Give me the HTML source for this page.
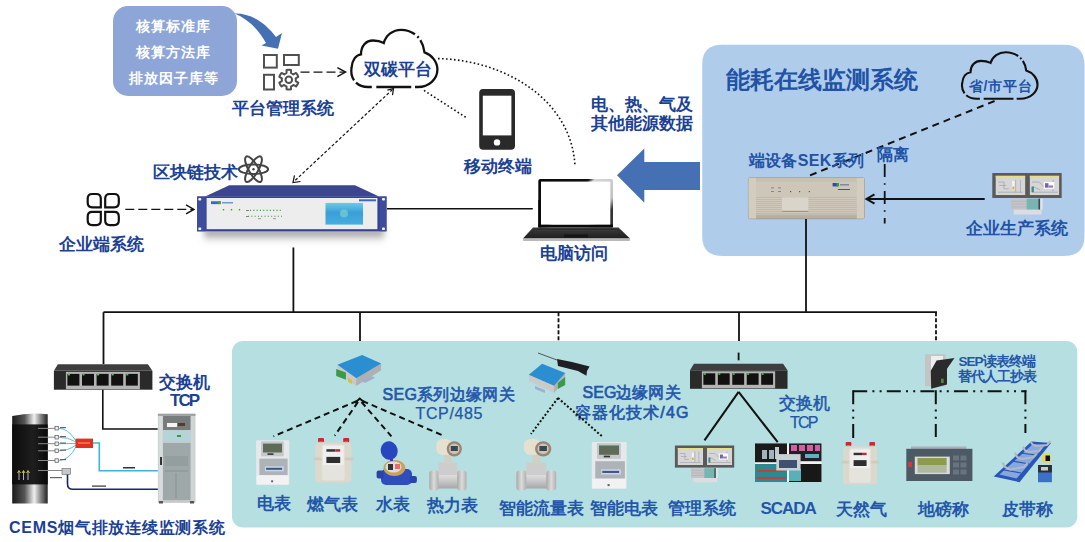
<!DOCTYPE html>
<html><head><meta charset="utf-8">
<style>
html,body{margin:0;padding:0;background:#fff;width:1085px;height:542px;overflow:hidden}
svg{display:block}
text{font-family:"Liberation Sans",sans-serif;font-weight:bold}
.dk{fill:#1b4193;font-size:17px}
.lb{fill:#2152a6;font-size:17px}
.md{fill:#2356ab;font-size:17px}
</style></head><body>
<svg width="1085" height="542" viewBox="0 0 1085 542">
<defs>
  <linearGradient id="pipeg" x1="0" y1="0" x2="0" y2="1"><stop offset="0" stop-color="#e4e4e4"/><stop offset="0.5" stop-color="#c8c8c8"/><stop offset="1" stop-color="#a8a8a8"/></linearGradient>
  <linearGradient id="flg" x1="0" y1="0" x2="1" y2="0"><stop offset="0" stop-color="#a8a8a8"/><stop offset="0.5" stop-color="#dcdcdc"/><stop offset="1" stop-color="#b0b0b0"/></linearGradient>
  <filter id="blur2" x="-20%" y="-50%" width="140%" height="200%"><feGaussianBlur stdDeviation="3"/></filter>
  <linearGradient id="lapTop" x1="0" y1="0" x2="1" y2="0">
    <stop offset="0" stop-color="#111"/><stop offset="0.6" stop-color="#222"/><stop offset="0.75" stop-color="#ddd"/><stop offset="1" stop-color="#999"/>
  </linearGradient>
</defs>

<!-- ============ TOP-LEFT BOX ============ -->
<rect x="113" y="6" width="124" height="90" rx="15" fill="#8ea6d7"/>
<g fill="#fff" font-size="14" text-anchor="middle">
  <text x="172.7" y="31" textLength="74" lengthAdjust="spacing">核算标准库</text>
  <text x="172.7" y="57" textLength="74" lengthAdjust="spacing">核算方法库</text>
  <text x="173.2" y="83" textLength="89" lengthAdjust="spacing">排放因子库等</text>
</g>
<!-- curved arrow -->
<path d="M234.5,13.5 C250,13 265,22 276,37 L282,33 L278,48.7 L261.5,45.6 L266,43 C259,30 248,19 234.5,13.5 Z" fill="#4570b4"/>

<!-- platform icon -->
<g fill="none" stroke="#505050" stroke-width="2">
  <rect x="264" y="55" width="12.8" height="12.6"/>
  <rect x="284" y="55" width="14.8" height="10"/>
  <rect x="264" y="74.8" width="10" height="14.7"/>
  <path id="gear" stroke-linejoin="round" d="M286.52,73.08 L286.57,70.05 A9.9,9.9 0 0 1 291.03,70.05 L291.08,73.08 A7.0,7.0 0 0 1 293.39,74.42 L296.04,72.95 A9.9,9.9 0 0 1 298.27,76.81 L295.67,78.36 A7.0,7.0 0 0 1 295.67,81.04 L298.27,82.59 A9.9,9.9 0 0 1 296.04,86.45 L293.39,84.98 A7.0,7.0 0 0 1 291.08,86.32 L291.03,89.35 A9.9,9.9 0 0 1 286.57,89.35 L286.52,86.32 A7.0,7.0 0 0 1 284.21,84.98 L281.56,86.45 A9.9,9.9 0 0 1 279.33,82.59 L281.93,81.04 A7.0,7.0 0 0 1 281.93,78.36 L279.33,76.81 A9.9,9.9 0 0 1 281.56,72.95 L284.21,74.42 A7.0,7.0 0 0 1 286.52,73.08 Z"/>
  <circle cx="288.8" cy="79.7" r="3.3"/>
</g>
<text class="dk" x="232.2" y="114">平台管理系统</text>
<!-- dashed arrow icon->cloud -->
<g stroke="#111" stroke-width="1.4" fill="none">
  <line x1="300.5" y1="72.1" x2="344.5" y2="72.1" stroke-dasharray="9 4"/>
  <polyline points="337.4,67.6 345.6,72.1 337.4,76.6"/>
</g>

<!-- cloud 双碳平台 -->
<path d="M368,87 C356,87 350,78 351.5,68 C352,60 356,55 361,54.4 C361,46 366,40.5 373,40.5 C377,40.5 381,41.5 383.8,43 C386,35 393,29.8 401,29.8 C413,29.8 423,38 424.5,52.4 C432,55 437.4,62 437.4,69.5 C437.4,79 429,87 418,87 Z" fill="none" stroke="#111" stroke-width="2.3" stroke-dasharray="13 3 100.5 3.2 2 2.8 67.5 3.8 34.9 4.5 4.8"/>
<text class="dk" x="364" y="75" fill="#1f4fa0">双碳平台</text>

<!-- ============ BLOCKCHAIN label + atom ============ -->
<text class="dk" x="153" y="178">区块链技术</text>
<g fill="none" stroke="#444" stroke-width="2" transform="translate(253.5,169.2)">
  <ellipse rx="14.6" ry="4.8"/>
  <ellipse rx="14.6" ry="4.8" transform="rotate(60)"/>
  <ellipse rx="14.6" ry="4.8" transform="rotate(-60)"/>
  <circle r="1.2" fill="#444" stroke="none"/>
</g>

<!-- enterprise icon -->
<g fill="none" stroke="#111" stroke-width="2.2">
  <path d="M87.7,198.5 Q87.7,194 92.2,194 L96.3,194 Q100.8,194 100.8,198.5 L100.8,207.3 L92.2,207.3 Q87.7,207.3 87.7,202.8 Z"/>
  <path d="M105.2,198.5 Q105.2,194 109.7,194 L114.3,194 Q118.8,194 118.8,198.5 L118.8,202.8 Q118.8,207.3 114.3,207.3 L105.2,207.3 Z"/>
  <path d="M87.7,216.4 Q87.7,211.9 92.2,211.9 L100.8,211.9 L100.8,220.6 Q100.8,225.1 96.3,225.1 L92.2,225.1 Q87.7,225.1 87.7,220.6 Z"/>
  <path d="M105.2,211.9 L114.3,211.9 Q118.8,211.9 118.8,216.4 L118.8,220.6 Q118.8,225.1 114.3,225.1 L109.7,225.1 Q105.2,225.1 105.2,220.6 Z"/>
</g>
<text class="dk" x="58.6" y="250.3">企业端系统</text>
<g stroke="#111" stroke-width="1.4" fill="none">
  <line x1="125.3" y1="209.4" x2="193" y2="209.4" stroke-dasharray="9 4"/>
  <polyline points="186,204.9 194,209.4 186,213.9"/>
</g>

<!-- ============ SERVER ============ -->
<defs>
  <linearGradient id="scr" x1="0" y1="0" x2="0" y2="1">
    <stop offset="0" stop-color="#6ccbe8"/><stop offset="0.45" stop-color="#3a9ed8"/><stop offset="1" stop-color="#46aee0"/>
  </linearGradient>
  <linearGradient id="shd" x1="0" y1="0" x2="0" y2="1">
    <stop offset="0" stop-color="#555" stop-opacity="0.8"/><stop offset="1" stop-color="#999" stop-opacity="0"/>
  </linearGradient>
</defs>
<g>
  <rect x="204" y="229" width="180" height="14" fill="url(#shd)" filter="url(#blur2)"/>
  <polygon points="229.3,185.2 355,185.2 379.6,196.8 204.6,196.8" fill="#3b4590"/>
  <rect x="197.1" y="196.5" width="189.4" height="34.8" fill="#34428f"/>
  <rect x="197.1" y="196.5" width="8.6" height="34.8" fill="#3d4c9c"/>
  <rect x="379.6" y="196.5" width="6.9" height="34.8" fill="#3d4c9c"/>
  <rect x="206.6" y="198" width="170.8" height="31.2" fill="#ededed"/>
  <g fill="#f4f4f8"><rect x="198.3" y="198" width="3" height="2.5" rx="1"/><rect x="198.3" y="227.5" width="3" height="2.5" rx="1"/><rect x="382" y="198" width="3" height="2.5" rx="1"/><rect x="382" y="227.5" width="3" height="2.5" rx="1"/></g>
  <rect x="211" y="201.3" width="9.7" height="2.8" fill="#2a6cc0"/>
  <rect x="217.5" y="201.3" width="3.2" height="2.8" fill="#3aa04a"/>
  <rect x="222" y="202" width="11" height="1.5" fill="#6a9ad0"/>
  <g fill="#3a9a3a">
    <rect x="222.8" y="209" width="1.4" height="1.4"/><rect x="230.8" y="209" width="1.4" height="1.4"/><rect x="238.8" y="209" width="1.4" height="1.4"/>
  </g>
  <g stroke="#3aa03a" stroke-width="1.1" stroke-dasharray="1.1 2.2">
    <line x1="250" y1="210.4" x2="282" y2="210.4"/>
    <line x1="248" y1="216.3" x2="282" y2="216.3"/>
  </g>
  <g fill="#666"><rect x="246" y="210" width="3" height="0.8"/><rect x="246" y="216" width="2.5" height="0.8"/><rect x="258" y="218.5" width="3" height="0.6"/><rect x="273" y="218.5" width="3" height="0.6"/>
  </g>
  <rect x="325.5" y="202.9" width="37.5" height="21.7" fill="url(#scr)"/>
  <circle cx="344" cy="213.5" r="4" fill="#7ad0d0" opacity="0.7"/>
  <rect x="359" y="199.3" width="17" height="2" fill="#3a6ac0"/>
</g>
<!-- ============ PHONE ============ -->
<rect x="479.2" y="88.9" width="35.8" height="60.8" rx="4" fill="#2a2a2a"/>
<rect x="482.8" y="95.7" width="28.6" height="39.7" fill="#fff"/>
<circle cx="497" cy="142.4" r="3.2" fill="#fff"/>
<text class="dk" x="463.8" y="171.5">移动终端</text>

<!-- ============ LAPTOP ============ -->
<defs>
  <linearGradient id="bez" x1="0" y1="0" x2="1" y2="0.6">
    <stop offset="0" stop-color="#0a0a0a"/><stop offset="0.5" stop-color="#111"/><stop offset="0.56" stop-color="#d8d8d8"/><stop offset="0.9" stop-color="#c0c0c0"/><stop offset="1" stop-color="#333"/>
  </linearGradient>
  <linearGradient id="lbase" x1="0" y1="0" x2="0" y2="1">
    <stop offset="0" stop-color="#3a3a3a"/><stop offset="1" stop-color="#202020"/>
  </linearGradient>
</defs>
<rect x="538.3" y="179" width="74.7" height="48.5" rx="2" fill="url(#bez)"/>
<rect x="538.3" y="200" width="3" height="27.5" fill="#0a0a0a"/>
<rect x="538.3" y="224.5" width="74.7" height="3" fill="#0a0a0a"/>
<rect x="541" y="181.6" width="69.3" height="43" fill="#fff"/>
<polygon points="533,227.5 618.5,227.5 630,238.5 523,238.5" fill="url(#lbase)"/>
<polygon points="536,229 615.5,229 620,233 531,233" fill="#2a2a2a"/>
<g stroke="#4a4a4a" stroke-width="0.5"><line x1="535" y1="230.5" x2="617" y2="230.5"/><line x1="533" y1="232" x2="619" y2="232"/></g>
<rect x="564" y="234.5" width="24" height="3" fill="#151515"/>
<rect x="523" y="238.5" width="107" height="2.4" rx="1" fill="#b8b8b8"/>
<text class="dk" x="539.8" y="258.8">电脑访问</text>

<!-- line server->laptop -->
<line x1="387" y1="208.8" x2="532.8" y2="208.8" stroke="#111" stroke-width="1.6"/>

<!-- dotted lines -->
<g fill="none" stroke="#111" stroke-width="1.6" stroke-dasharray="1.6 2.4">
  <path d="M438,58.6 C505,60 572,100 575,166.5"/>
  <line x1="424" y1="90.4" x2="466" y2="117.5"/>
</g>
<!-- dashed line cloud->server -->
<g stroke="#111" stroke-width="1.2" fill="none">
  <line x1="392.5" y1="89.5" x2="294" y2="181.5" stroke-dasharray="3 2"/>
  <polyline points="387.4,90.1 393.5,88.5 392.5,95.2"/>
  <polyline points="294.5,175.4 293,182.5 300.5,181.5"/>
</g>
<!-- ============ BIG ARROW ============ -->
<polygon points="617,175.3 644.3,148.4 644.3,162 700,162 700,190 644.3,190 644.3,202.8" fill="#4570b4"/>
<text class="dk" x="590.8" y="109.5">电、热、气及</text>
<text class="dk" x="590.8" y="128.5">其他能源数据</text>

<!-- ============ RIGHT PANEL ============ -->
<path d="M722.2,44.7 L1064,44.7 Q1084.5,44.7 1084.5,65 L1084.5,236 Q1084.5,256 1064,256 L722.2,256 Q702.2,256 702.2,236 L702.2,64.7 Q702.2,44.7 722.2,44.7 Z" fill="#afcdeb"/>
<text class="lb" x="725.5" y="88" style="font-size:24px">能耗在线监测系统</text>
<!-- small cloud -->
<path d="M976.67,98.70 C966.15,98.70 960.88,91.39 962.20,83.26 C962.64,76.75 966.15,72.69 970.53,72.20 C970.53,65.37 974.92,60.90 981.06,60.90 C984.56,60.90 988.07,61.71 990.53,62.93 C992.46,56.43 998.60,52.20 1005.61,52.20 C1016.14,52.20 1024.91,58.87 1026.22,70.57 C1032.80,72.69 1037.53,78.38 1037.53,84.48 C1037.53,92.20 1030.17,98.70 1020.52,98.70 Z" fill="none" stroke="#111" stroke-width="2.1" stroke-dasharray="11.08 2.56 85.65 2.73 1.70 2.39 57.53 3.24 29.74 3.84 4.09"/>
<text class="lb" x="968.5" y="91" style="font-size:14px" textLength="63.5" lengthAdjust="spacing">省/市平台</text>
<!-- dashed line to SEK -->
<line x1="994.6" y1="101" x2="806" y2="177" stroke="#111" stroke-width="2" stroke-dasharray="7 5"/>
<text class="lb" x="748.6" y="166" style="font-size:16px" textLength="115.5" lengthAdjust="spacing">端设备SEK系列</text>
<text class="lb" x="876.5" y="159.5" style="font-size:16px">隔离</text>
<!-- SEK device -->
<defs>
  <linearGradient id="sekg" x1="0" y1="0" x2="0" y2="1">
    <stop offset="0" stop-color="#c6c0b1"/><stop offset="0.5" stop-color="#cdc7b8"/><stop offset="1" stop-color="#b5ae9e"/>
  </linearGradient>
  <pattern id="groove" width="4" height="2" patternUnits="userSpaceOnUse">
    <rect width="4" height="2" fill="#cfc9bb"/><rect y="1.2" width="4" height="0.8" fill="#bcb5a6"/>
  </pattern>
</defs>
<rect x="747.9" y="177.2" width="116.9" height="42" rx="2.5" fill="#a39c8c"/>
<rect x="748.6" y="177.9" width="115.5" height="40.6" rx="2" fill="url(#sekg)"/>
<rect x="756" y="182" width="100.8" height="15" fill="#cdc7b9"/>
<rect x="756" y="197" width="100.8" height="17.5" fill="url(#groove)"/>
<rect x="781.9" y="197.3" width="26.5" height="14.4" fill="#d9d5ca"/>
<rect x="781.9" y="210.8" width="26.5" height="1.2" fill="#9d9686"/>
<rect x="748.6" y="177.9" width="7.4" height="40.6" fill="#d2cdbf"/>
<rect x="856.8" y="177.9" width="7.3" height="40.6" fill="#d2cdbf"/>
<rect x="832.6" y="183" width="5.5" height="3.4" fill="#2a4ab0"/><rect x="836.5" y="183" width="2.5" height="3.4" fill="#3a9a4a"/>
<rect x="840" y="184" width="9" height="1.5" fill="#7a88b0"/>
<rect x="838" y="189" width="12" height="1" fill="#555"/>
<g fill="#a04030"><rect x="790" y="191" width="1.2" height="1.2"/><rect x="799" y="191" width="1.2" height="1.2"/><rect x="808.7" y="191" width="1.2" height="1.2"/></g>
<g fill="#777"><rect x="771" y="187.5" width="3" height="0.8"/><rect x="778" y="187.5" width="3" height="0.8"/><rect x="771" y="191" width="3" height="0.8"/><rect x="778" y="191" width="3" height="0.8"/></g>
<!-- isolation dash-dot -->
<line x1="884.7" y1="164" x2="884.7" y2="223.6" stroke="#111" stroke-width="1.8" stroke-dasharray="13 6.2 1.6 6.2"/>
<!-- arrow enterprise production -> SEK -->
<line x1="867" y1="199" x2="984.7" y2="199" stroke="#111" stroke-width="2"/>
<polyline points="874.5,194.3 866.5,199 874.5,203.7" fill="none" stroke="#111" stroke-width="2"/>
<!-- monitor -->
<use href="#monitor" transform="translate(992.3,173) scale(1.17,1.13)"/>
<text class="lb" x="966" y="234.2">企业生产系统</text>

<!-- ============ TREE LINES ============ -->
<g stroke="#111" stroke-width="1.8" fill="none">
  <line x1="293.4" y1="247.5" x2="293.4" y2="312.2"/>
  <line x1="103.5" y1="312.2" x2="937" y2="312.2"/>
  <line x1="103.5" y1="312.2" x2="103.5" y2="364"/>
  <line x1="360" y1="312.2" x2="360" y2="341"/>
  <line x1="739" y1="312.2" x2="739" y2="341"/>
  <line x1="806" y1="219" x2="806" y2="312.2"/>
  <line x1="558.5" y1="312.2" x2="558.5" y2="341" stroke-dasharray="4 2"/>
  <line x1="936" y1="312.2" x2="936" y2="341" stroke-dasharray="4 2"/>
</g>

<!-- ============ BOTTOM TEAL BOX ============ -->
<rect x="232" y="341" width="845.3" height="186.5" rx="11" fill="#b5dfe0"/>

<!-- ============ CEMS (left) ============ -->
<defs>
  <linearGradient id="metal" x1="0" y1="0" x2="1" y2="0">
    <stop offset="0" stop-color="#1a1a1a"/><stop offset="0.35" stop-color="#555"/><stop offset="0.62" stop-color="#f0f0f0"/><stop offset="0.8" stop-color="#888"/><stop offset="1" stop-color="#222"/>
  </linearGradient>
  <linearGradient id="chim" x1="0" y1="0" x2="1" y2="0">
    <stop offset="0" stop-color="#0c0c0c"/><stop offset="0.6" stop-color="#1e1e1e"/><stop offset="1" stop-color="#0a0a0a"/>
  </linearGradient>
</defs>
<!-- chimney -->
<path d="M12.2,416 Q30,412 47.7,414.2 L47.7,503.6 L12.2,503.6 Z" fill="url(#metal)"/>
<rect x="12.2" y="424.4" width="35.5" height="60" fill="url(#chim)"/>
<g stroke="#ddd" stroke-width="0.8"><line x1="19" y1="480" x2="19" y2="471"/><line x1="23.5" y1="480" x2="23.5" y2="471"/><line x1="28" y1="480" x2="28" y2="471"/></g>
<g stroke="#c8c040" stroke-width="1"><polyline points="17.5,473 19,470.5 20.5,473" fill="none"/><polyline points="22,473 23.5,470.5 25,473" fill="none"/><polyline points="26.5,473 28,470.5 29.5,473" fill="none"/></g>
<g stroke="#888" stroke-width="1">
  <line x1="38" y1="428.4" x2="56" y2="428.4"/><line x1="38" y1="437.2" x2="56" y2="437.2"/><line x1="38" y1="443.7" x2="56" y2="443.7"/><line x1="38" y1="450.8" x2="56" y2="450.8"/><line x1="38" y1="460.5" x2="56" y2="460.5"/><line x1="38" y1="470.5" x2="62" y2="470.5"/>
</g>
<g fill="#eee" stroke="#555" stroke-width="0.7">
  <rect x="55" y="426.5" width="3.5" height="3.5"/><rect x="55" y="435.5" width="3.5" height="3.5"/><rect x="55" y="442" width="3.5" height="3.5"/><rect x="55" y="449" width="3.5" height="3.5"/><rect x="55" y="458.8" width="3.5" height="3.5"/>
</g>
<rect x="62" y="468.5" width="8.5" height="6" fill="#c8c8c8" stroke="#666" stroke-width="0.6"/>
<g stroke="#4ab8d8" stroke-width="0.9" fill="none">
  <path d="M58.5,428.4 Q68,428 76,441"/><path d="M58.5,437.2 Q68,437 76,442"/><path d="M58.5,443.7 L76,443.5"/><path d="M58.5,450.8 Q68,451 76,445"/><path d="M58.5,460.5 Q70,460 76,446.5"/>
</g>
<rect x="75.5" y="438.6" width="17.5" height="9.4" fill="#e0321e"/>
<rect x="78" y="442.5" width="12" height="1" fill="#f8a080"/>
<polyline points="93,443 99.3,443 99.3,470.8 157.9,470.8" fill="none" stroke="#3cb4dc" stroke-width="1.6"/>
<path d="M67.5,474.5 L67.5,484 Q67.5,489.3 73,489.3 L157.9,489.3" fill="none" stroke="#1c2468" stroke-width="1.6"/>
<g fill="#333"><rect x="123" y="467" width="12" height="1.5"/><rect x="92" y="485.5" width="14" height="1.2"/></g>
<g fill="#666"><rect x="60" y="427" width="6" height="1.2"/><rect x="60" y="436" width="6" height="1.2"/><rect x="60" y="442.5" width="6" height="1.2"/><rect x="60" y="449.5" width="6" height="1.2"/><rect x="60" y="459" width="6" height="1.2"/><rect x="50" y="477" width="12" height="1.2"/></g>
<!-- cabinet -->
<rect x="157.9" y="413.8" width="37.5" height="89" fill="#c4c8c8"/>
<rect x="157.9" y="413.8" width="37.5" height="2" fill="#9aa0a0"/>
<rect x="158.5" y="416" width="4.2" height="85" fill="#d8dcdc"/>
<rect x="190.5" y="416" width="4.2" height="85" fill="#d0d4d4"/>
<rect x="163" y="416" width="27.5" height="14" fill="#777c7c"/>
<rect x="167" y="423" width="10" height="4" fill="#f4f4f4"/>
<rect x="178" y="423" width="7" height="3" fill="#5a3a30"/>
<rect x="163" y="430.5" width="27.5" height="11" fill="#b4d4d8"/>
<rect x="177" y="435" width="4" height="2" fill="#3a9a4a"/>
<rect x="163" y="443" width="27.5" height="57" fill="#9ea8a8"/>
<g stroke="#7a8484" stroke-width="0.6"><line x1="165" y1="471" x2="188" y2="471"/><line x1="176" y1="473" x2="176" y2="498"/></g>
<rect x="165" y="456" width="23" height="10" fill="#959e9e"/>
<rect x="160" y="457" width="2" height="8" fill="#333"/>
<rect x="159" y="501" width="4" height="2.5" fill="#555"/><rect x="190" y="501" width="4" height="2.5" fill="#555"/>
<!-- switch 1 -->
<use href="#switch" transform="translate(53.9,364.2) scale(1,1.02)"/>
<text class="dk" x="158.7" y="387.8">交换机</text>
<text class="dk" x="170" y="406" textLength="30" lengthAdjust="spacing">TCP</text>
<polyline points="102.8,389.7 102.8,429 157.7,429" fill="none" stroke="#111" stroke-width="1.6"/>
<text class="dk" x="8.9" y="532.5" style="font-size:16px" textLength="216" lengthAdjust="spacing">CEMS烟气排放连续监测系统</text>

<!-- ============ BOTTOM DEVICES ============ -->
<defs>
  <g id="monitor">
    <rect x="0" y="0" width="59.3" height="22.1" fill="#5a5a5a"/>
    <rect x="2.9" y="2.5" width="25.2" height="17" fill="#d6d6d6"/>
    <rect x="32.1" y="2.5" width="25" height="17" fill="#d6d6d6"/>
    <rect x="2.9" y="2.5" width="25.2" height="1.2" fill="#e8e080"/>
    <rect x="32.1" y="2.5" width="25" height="1.2" fill="#e8e080"/>
    <g fill="none" stroke="#9aa0a8" stroke-width="0.6">
      <path d="M5,8 L10,8 L10,14 L14,14 M6,11 L12,11 M20,6 L20,17 M24,6 L24,17 M5,17 L26,17"/>
      <path d="M34,8 L40,8 L44,12 M35,12 L41,15 M34,17 L56,17 M52,6 L52,16"/>
    </g>
    <rect x="17" y="7" width="2" height="8" fill="#f4f4f4"/>
    <rect x="17.2" y="12" width="1.6" height="2.5" fill="#d8b030"/>
    <rect x="44" y="8" width="9" height="6" fill="#fff"/>
    <rect x="45" y="9" width="3" height="4" fill="#7a60b0"/>
    <rect x="48" y="11" width="4" height="2" fill="#9080c0"/>
    <rect x="33.5" y="12" width="2" height="5" fill="#3a8a8a"/>
    <rect x="16.1" y="22.7" width="13.5" height="9.8" fill="#c4c4c8"/>
    <g stroke="#b0b0b4" stroke-width="0.5"><line x1="16.1" y1="25" x2="29.6" y2="25"/><line x1="16.1" y1="27.5" x2="29.6" y2="27.5"/><line x1="16.1" y1="30" x2="29.6" y2="30"/></g>
    <rect x="29.4" y="22.7" width="10.2" height="9.8" fill="#78b4b0"/>
    <rect x="39.4" y="22.7" width="1.6" height="9.8" fill="#3c4a50"/>
    <rect x="41" y="22.7" width="2" height="9.8" fill="#e4e4e8"/>
    <rect x="18.3" y="32.5" width="23.8" height="4.3" fill="#dcdce4"/>
  </g>
  <g id="emeter">
    <rect x="0" y="0" width="33.2" height="44.3" rx="1" fill="#e6e8ea"/>
    <rect x="4.9" y="1.1" width="22.8" height="14.9" fill="#c4c8cc"/>
    <rect x="6.9" y="3.3" width="19" height="8.9" fill="#5f6b57"/>
    <rect x="11.4" y="13" width="6" height="1.6" fill="#333"/>
    <rect x="3.3" y="18.3" width="28.2" height="16.6" fill="#aeb3b8"/>
    <rect x="8.9" y="26" width="18.8" height="5" fill="#c4d6f0"/>
    <rect x="10" y="27.5" width="16" height="2" fill="#44557a"/>
    <rect x="0.5" y="35" width="32" height="9.3" fill="#f2f2f2"/>
    <rect x="15" y="40" width="2" height="2" fill="#666"/>
  </g>
  <g id="gmeter">
    <rect x="3.3" y="0" width="6" height="4.2" rx="1" fill="#d02828"/>
    <rect x="28.5" y="0" width="6" height="4.2" rx="1" fill="#d02828"/>
    <rect x="4.5" y="3.5" width="3.6" height="2" fill="#aaa"/>
    <rect x="29.7" y="3.5" width="3.6" height="2" fill="#aaa"/>
    <rect x="0.6" y="4.5" width="36" height="39.9" rx="3" fill="#dcd8cb"/>
    <rect x="-1" y="19.5" width="39.8" height="2.8" fill="#cfcbbd"/>
    <rect x="7" y="6.5" width="23" height="36" rx="3" fill="#e4e3de"/>
    <rect x="8.3" y="7.8" width="20.5" height="19.4" fill="#efefef"/>
    <rect x="11.7" y="11.2" width="9" height="2.5" fill="#333"/>
    <rect x="20.7" y="11.2" width="4.8" height="2.5" fill="#b03030"/>
    <rect x="11.7" y="18.9" width="13.8" height="6.1" fill="#2e2e2e"/>
  </g>
  <g id="fmeter">
    <rect x="4" y="35.5" width="30" height="15" fill="url(#pipeg)"/>
    <rect x="0" y="32.4" width="9.3" height="20" rx="3" fill="url(#flg)"/>
    <rect x="27.9" y="32.4" width="9.3" height="20" rx="3" fill="url(#flg)"/>
    <rect x="9.3" y="24.8" width="18.6" height="12.2" fill="#cdcdcd"/>
    <rect x="15.1" y="17" width="7" height="10" fill="#d3cfc6"/>
    <rect x="7" y="1" width="16" height="16" rx="6" fill="#e6e0d0"/>
    <circle cx="25" cy="10.8" r="7.6" fill="#9c8470"/>
    <circle cx="25" cy="10.8" r="5.3" fill="#c8c4c0"/>
    <rect x="21.5" y="8" width="7" height="5" fill="#3c4650"/>
  </g>
  <g id="switch">
    <polygon points="4,0 94,0 98.5,6.5 0,6.5" fill="#3e3e3e"/>
    <rect x="0" y="6.5" width="98.5" height="18.5" fill="#2a2a2a"/>
    <rect x="12" y="7.5" width="74" height="17" fill="#b4b4b4"/>
    <g fill="#111">
      <rect x="13.5" y="9.5" width="12" height="11.5"/>
      <rect x="28.1" y="9.5" width="12" height="11.5"/>
      <rect x="42.7" y="9.5" width="12" height="11.5"/>
      <rect x="57.3" y="9.5" width="12" height="11.5"/>
      <rect x="71.9" y="9.5" width="12" height="11.5"/>
    </g>
    <g fill="#5c5">
      <rect x="14" y="9.5" width="2" height="1.5"/><rect x="28.6" y="9.5" width="2" height="1.5"/><rect x="43.2" y="9.5" width="2" height="1.5"/><rect x="57.8" y="9.5" width="2" height="1.5"/><rect x="72.4" y="9.5" width="2" height="1.5"/>
    </g>
  </g>
</defs>

<!-- gateway 1 -->
<polygon points="337.4,364.7 337.2,372 356,386 356.4,378.3" fill="#c8c8c8"/>
<polygon points="356.4,378.3 356,386 381,370.5 381.2,363.6" fill="#b0b0b0"/>
<polygon points="337.4,364.7 362.2,355 381.2,363.6 356.4,378.3" fill="#2b8ed0"/>
<polygon points="336.2,369 345.9,372.5 345.9,379.8 336.2,376" fill="#3a9a4a"/>
<polygon points="348,378 352,380 352,384 348,382" fill="#d8c040"/>
<polygon points="362,381 372,376 375,378 365,383" fill="#a0b0d0"/>
<text x="382.5" y="399.5" style="font-size:16px;font-weight:normal" fill="#2356ab" stroke="#2356ab" stroke-width="0.65" textLength="132" lengthAdjust="spacing">SEG系列边缘网关</text>
<text x="415.5" y="418.5" style="font-size:16px;font-weight:normal" fill="#2356ab" stroke="#2356ab" stroke-width="0.25" textLength="67" lengthAdjust="spacing">TCP/485</text>
<!-- dashed lines gateway1 -> meters -->
<g stroke="#111" stroke-width="2" fill="none" stroke-dasharray="6 4">
  <line x1="357" y1="401" x2="273.5" y2="436.3"/>
  <line x1="358" y1="402" x2="334.7" y2="435.6"/>
  <line x1="361.5" y1="402" x2="391.4" y2="436.3"/>
  <line x1="362.5" y1="401" x2="444.9" y2="436.3"/>
</g>
<polyline points="355,403 359.7,398.5 364.5,402.5" fill="none" stroke="#111" stroke-width="2"/>

<use href="#emeter" x="256.1" y="440.3"/>
<use href="#gmeter" x="314.7" y="438"/>
<!-- water meter -->
<g>
  <rect x="381" y="469" width="31" height="16" rx="5" fill="#2f4dbd"/>
  <rect x="376.6" y="470.5" width="7" height="8" rx="2" fill="#2a44a8"/>
  <rect x="409.5" y="476" width="7.4" height="7" rx="2" fill="#2a44a8"/>
  <ellipse cx="394.4" cy="468" rx="11" ry="8" fill="#c9a458"/>
  <ellipse cx="393.5" cy="467" rx="8" ry="5.5" fill="#e0dcdc"/>
  <rect x="388" y="464" width="5" height="6" fill="#333"/>
  <rect x="395" y="464" width="5" height="5" fill="#e07070"/>
  <ellipse cx="389.2" cy="450.6" rx="8.5" ry="9.3" fill="#2846c0" transform="rotate(-15 389.2 450.6)"/>
  <rect x="390" y="457" width="3" height="4" fill="#2846c0"/>
</g>
<use href="#fmeter" x="429.3" y="438"/>

<!-- gateway 2 -->
<polygon points="528.8,374.8 529,381 554,393 554.1,385.8" fill="#cacaca"/>
<polygon points="554.1,385.8 554,393 565,380 565.2,372.9" fill="#b2b2b2"/>
<polygon points="528.8,374.8 542.1,363.7 565.2,372.9 554.1,385.8" fill="#2b8ed0"/>
<polygon points="557.8,383 565.2,377 565.2,385 557.8,389" fill="#3a9a4a"/>
<polygon points="535,386 545,390 545,393 535,389" fill="#a0b0d0"/>
<line x1="538" y1="353" x2="557" y2="360" stroke="#333" stroke-width="0.8"/>
<path d="M557,359 L572,362 L589.6,366.5 L587,371 L586.4,375.7 L578,371 L566,368 L558,366 Z" fill="#1e1e24"/>
<text x="582.5" y="397.8" style="font-size:16px;font-weight:normal" fill="#2356ab" stroke="#2356ab" stroke-width="0.65" textLength="98" lengthAdjust="spacing">SEG边缘网关</text>
<text x="574.5" y="417.5" style="font-size:16px;font-weight:normal" fill="#2356ab" stroke="#2356ab" stroke-width="0.65" textLength="114" lengthAdjust="spacing">容器化技术/4G</text>
<g stroke="#111" stroke-width="2" fill="none" stroke-dasharray="2 2">
  <line x1="558" y1="398" x2="531" y2="434"/>
  <line x1="558" y1="398" x2="602.6" y2="436.8"/>
</g>
<use href="#fmeter" transform="translate(516.4,438) scale(1.07,1)"/>
<use href="#emeter" transform="translate(591.8,442) scale(1.05)"/>

<!-- switch 2 -->
<line x1="738.6" y1="352.6" x2="738.6" y2="360.3" stroke="#111" stroke-width="1.8"/>
<use href="#switch" transform="translate(690,363.8) scale(0.99,1)"/>
<g stroke="#111" stroke-width="2" fill="none">
  <line x1="738.6" y1="391.9" x2="704.5" y2="440.4"/>
  <line x1="738.6" y1="391.9" x2="777.7" y2="442.2"/>
</g>
<text x="778.7" y="408.5" style="font-size:17px;font-weight:normal" fill="#2356ab" stroke="#2356ab" stroke-width="0.5">交换机</text>
<text x="790" y="428" style="font-size:16px;font-weight:normal" fill="#2356ab" stroke="#2356ab" stroke-width="0.25" textLength="28.5" lengthAdjust="spacing">TCP</text>
<use href="#monitor" x="674.9" y="445.5"/>

<!-- SCADA -->
<rect x="755" y="443.4" width="66.5" height="38.6" fill="#f2f2f2"/>
<rect x="755" y="443.4" width="32" height="18.8" fill="#1a1a1a"/>
<rect x="762" y="450" width="5" height="9" fill="#a0b4c0"/><rect x="769" y="450" width="5" height="9" fill="#a0b4c0"/><rect x="775" y="447" width="4" height="12" fill="#c0c8c8"/>
<rect x="789" y="443.4" width="32.5" height="17.8" fill="#202028"/>
<g fill="#d060a0"><rect x="791" y="445" width="6" height="6"/><rect x="799" y="445" width="6" height="6"/><rect x="807" y="445" width="6" height="6"/><rect x="815" y="445" width="5" height="6"/></g>
<g fill="#60b0c0"><rect x="805" y="454" width="14" height="4"/></g>
<rect x="755" y="464" width="32" height="18" fill="#2a8a90"/>
<g fill="#c04040"><rect x="757" y="470" width="28" height="2"/><rect x="757" y="477" width="28" height="2"/></g>
<rect x="789" y="464" width="32.5" height="18" fill="#181818"/>
<rect x="789" y="469" width="12" height="12" fill="#5ab0b8"/>
<rect x="776.3" y="454.1" width="24.3" height="16.4" fill="#c8d0d4"/>
<rect x="779" y="460" width="18" height="8" fill="#405070"/>

<!-- SEP device -->
<rect x="925" y="354.2" width="20.7" height="32" fill="#c4c4c4"/>
<rect x="931" y="356" width="12" height="14" fill="#eee"/>
<polygon points="930.8,370.8 936.6,360.5 954.5,358 947,368.8 947,384.5 931.2,388.7" fill="#2b2b2b"/>
<rect x="941" y="378.7" width="2.7" height="4.3" fill="#4a8a3a"/>
<text x="958.4" y="365.5" style="font-size:13.5px" fill="#2356ab" textLength="77.5" lengthAdjust="spacing">SEP读表终端</text>
<text x="957.7" y="381.3" style="font-size:13.5px" fill="#2356ab" textLength="79.5" lengthAdjust="spacing">替代人工抄表</text>
<!-- dash-dot bracket -->
<g stroke="#111" stroke-width="2" fill="none" stroke-dasharray="14 5.2 2 5.2 2 5.2">
  <path d="M853.2,391.3 H1026.4"/>
  <path d="M853.2,390.3 V438.7"/>
  <path d="M935.8,390.3 V437"/>
  <path d="M1025.4,390.3 V433"/>
</g>
<use href="#gmeter" transform="translate(842.6,442) scale(0.94,0.96)"/>
<!-- weighbridge -->
<rect x="911" y="446.5" width="55.4" height="3" fill="#a8b0b8"/>
<rect x="906.3" y="448.8" width="66.1" height="32.2" fill="#4d5965"/>
<rect x="914.8" y="456.6" width="35" height="17.5" fill="#d8dcd8"/>
<rect x="917.5" y="458" width="29.1" height="7.5" fill="#8c9c4c"/>
<rect x="917.5" y="465.5" width="29.1" height="7.2" fill="#b0b8a0"/>
<g fill="#6a747e"><rect x="953" y="455.5" width="6" height="5"/><rect x="960.5" y="455.5" width="6" height="5"/><rect x="953" y="462.5" width="6" height="5"/><rect x="960.5" y="462.5" width="6" height="5"/><rect x="953" y="469.5" width="6" height="5"/><rect x="960.5" y="469.5" width="6" height="5"/></g>
<rect x="908" y="462" width="4" height="5" fill="#c04040"/>
<!-- belt scale -->
<polygon points="993.7,476.6 1019.5,482.2 1051,442.9 1031.5,441.5" fill="#2a55b8"/>
<polygon points="999.5,474.5 1016.5,478.5 1045.5,445 1033,444" fill="#86a8e0"/>
<g stroke="#2a55b8" stroke-width="1.2"><line x1="1004" y1="470" x2="1021" y2="473"/><line x1="1012" y1="461" x2="1029" y2="464"/><line x1="1020" y1="453" x2="1036" y2="455"/></g>
<g stroke="#b4b8c0" stroke-width="2" fill="none" stroke-linejoin="round">
  <path d="M1002.5,462.5 L1005,467 L1010.3,469.5 L1024,467 L1027.5,463"/>
  <path d="M1015,452.5 L1017,457 L1021,459 L1033,457.5 L1036.5,454"/>
  <path d="M1023,446.5 L1025,450.5 L1029,452 L1039,451 L1041.5,447.5"/>
  <path d="M1030.6,441.5 L1032.5,444.5 L1036,446 L1047,445 L1050.5,441"/>
</g>
<rect x="1041.7" y="453.5" width="9.3" height="9.3" rx="3" fill="#e4d860"/>
<rect x="1045.5" y="455.5" width="4.5" height="5.5" fill="#111"/>
<rect x="1038" y="465" width="13.9" height="17.2" fill="#3a70c8"/>
<rect x="1038" y="465" width="13.9" height="7.5" fill="#2a3038"/>
<rect x="1041" y="467" width="7" height="3.5" fill="#c8d0c0"/>
<!-- bottom labels -->
<g class="md">
  <text x="257" y="509">电表</text>
  <text x="306.5" y="510">燃气表</text>
  <text x="376" y="510">水表</text>
  <text x="426.5" y="511">热力表</text>
  <text x="499" y="513.5">智能流量表</text>
  <text x="590" y="513.5">智能电表</text>
  <text x="668" y="513.5">管理系统</text>
  <text x="760.4" y="513.5" textLength="56.5" lengthAdjust="spacing">SCADA</text>
  <text x="835.5" y="514.5">天然气</text>
  <text x="918" y="514.5">地磅称</text>
  <text x="1001.5" y="514.5">皮带称</text>
</g>
</svg>
</body></html>
